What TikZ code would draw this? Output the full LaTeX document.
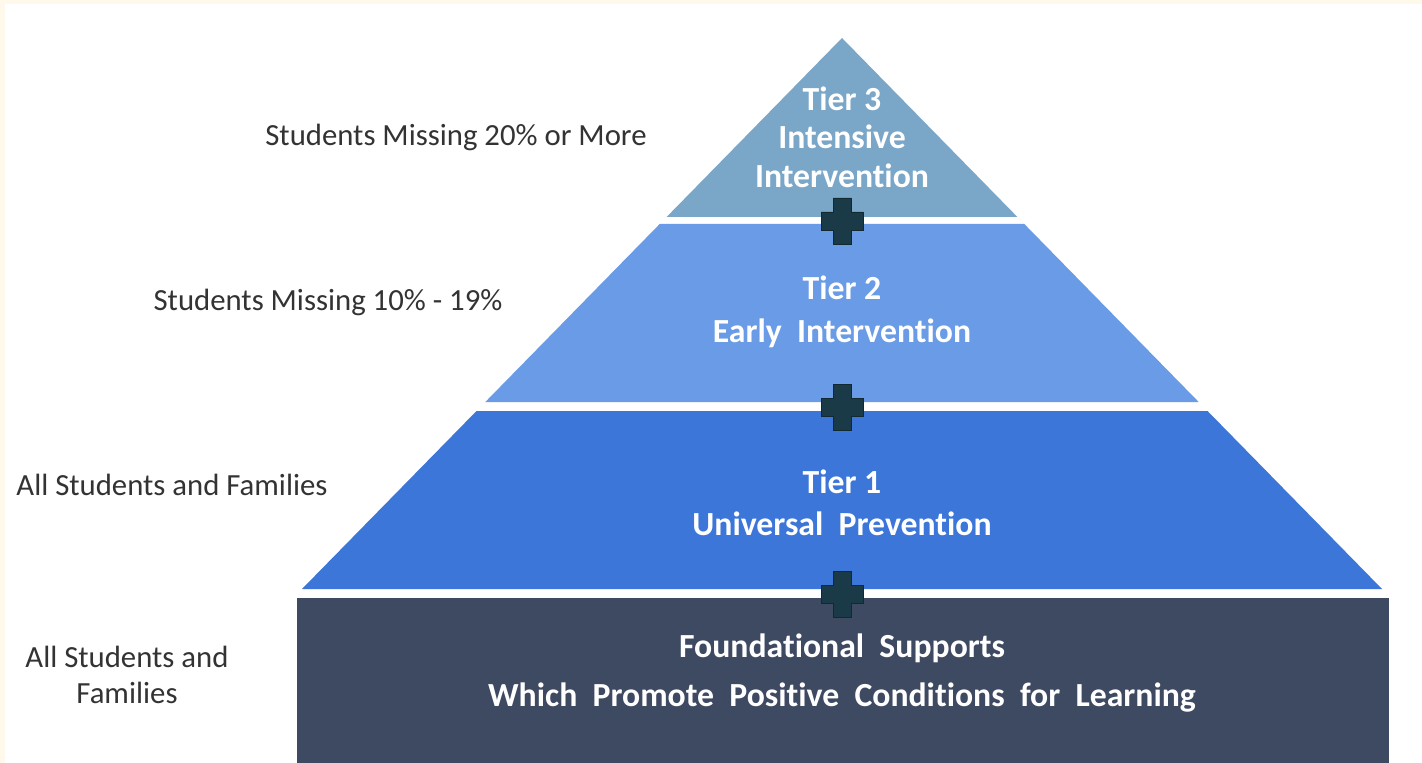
\documentclass[tikz,border=0pt]{standalone}
\usepackage{fontspec}
\setmainfont{Carlito}[Ligatures=NoCommon]
\definecolor{tierthree}{HTML}{7AA6C8}
\definecolor{tiertwo}{HTML}{6A9BE6}
\definecolor{tierone}{HTML}{3B76D8}
\definecolor{foundation}{HTML}{3E4962}
\definecolor{plusfill}{HTML}{1B3A48}
\definecolor{cream}{HTML}{FFF9EC}
\definecolor{labelgray}{HTML}{333333}
\begin{document}
\begin{tikzpicture}[x=0.02cm,y=-0.02cm]
    %pyramid, 1 unit = 1px from the top left corner
\tikzset{
    tier text/.style={text=white, align=center, font=\bfseries\fontsize{19.2}{22}\selectfont},
    side text/.style={text=labelgray, align=center, font=\fontsize{17.5}{20.5}\selectfont},
    plus sign/.style={fill=plusfill, draw=plusfill!70!black, line width=0.3pt}
}
    \useasboundingbox (0,0) rectangle (1422,763);
    \fill[cream] (0,0) rectangle (1422,763);
    \fill[white] (5,4) rectangle (1422,763);
    % tiers
    \fill[tierthree] (842,38) -- (1017.4,217) -- (666.6,217) -- cycle;
    \fill[tiertwo] (659.7,224) -- (1024.3,224) -- (1198.7,402) -- (485.3,402) -- cycle;
    \fill[tierone] (476.5,411) -- (1207.5,411) -- (1382,589) -- (302,589) -- cycle;
    \fill[foundation] (297,598) rectangle (1389,763);
    % plus signs between the tiers
    \foreach \y in {221,407,594}{
        \filldraw[plus sign] (821,\y-9) -- (833,\y-9) -- (833,\y-23) -- (851,\y-23) -- (851,\y-9)
            -- (863,\y-9) -- (863,\y+9) -- (851,\y+9) -- (851,\y+23) -- (833,\y+23)
            -- (833,\y+9) -- (821,\y+9) -- cycle;
    }
    \node[tier text](Tier3) at (842,137) {Tier 3\\Intensive\\Intervention};
    \node[tier text, font=\bfseries\fontsize{19.2}{24.5}\selectfont](Tier2) at (842,312) {Tier 2\\Early~~Intervention};
    \node[tier text, font=\bfseries\fontsize{19.2}{24}\selectfont](Tier1) at (842,503) {Tier 1\\Universal~~Prevention};
    \node[tier text, font=\bfseries\fontsize{19.2}{28}\selectfont](Found) at (842,673) {Foundational~~Supports\\Which~~Promote~~Positive~~Conditions~~for~~Learning};
    \node[side text](LabelThree) at (456,137) {Students Missing 20\% or More};
    \node[side text](LabelTwo) at (328,302) {Students Missing 10\% - 19\%};
    \node[side text](LabelOne) at (172,485) {All Students and Families};
    \node[side text](LabelFound) at (127,675) {All Students and\\Families};
\end{tikzpicture}
\end{document}
